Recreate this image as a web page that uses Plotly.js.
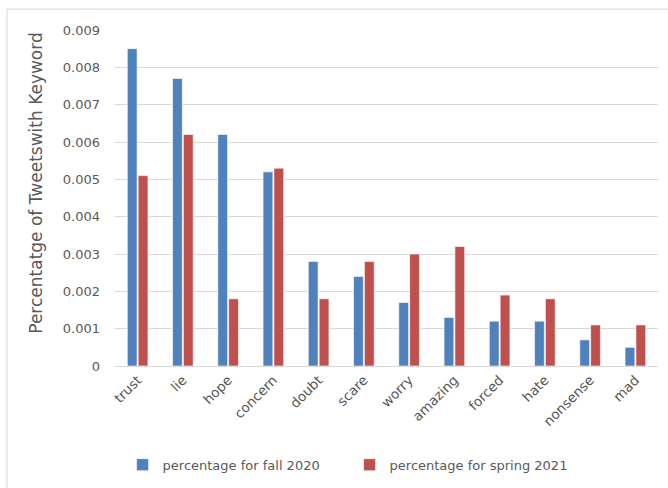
<!DOCTYPE html>
<html>
<head>
<meta charset="utf-8">
<script src="https://cdn.plot.ly/plotly-3.0.1.min.js"></script>
<style>html,body{margin:0;padding:0;background:#fff;}#chart{width:668px;height:488px;}</style>
</head>
<body>
<div id="chart"></div>
<script>
const keywords = ["trust","lie","hope","concern","doubt","scare","worry","amazing","forced","hate","nonsense","mad"];
const fall2020 = [0.0085,0.0077,0.0062,0.0052,0.0028,0.0024,0.0017,0.0013,0.0012,0.0012,0.0007,0.0005];
const spring2021 = [0.0051,0.0062,0.0018,0.0053,0.0018,0.0028,0.0030,0.0032,0.0019,0.0018,0.0011,0.0011];
const yTicks = [0,0.001,0.002,0.003,0.004,0.005,0.006,0.007,0.008,0.009];
const yTickText = ["0","0.001","0.002","0.003","0.004","0.005","0.006","0.007","0.008","0.009"];
const yTitle = "Percentatge of Tweetswith Keyword";

const fontFam = "DejaVu Sans, sans-serif";
const grey = "#595959";

const traces = [
  {type:"bar", name:"percentage for fall 2020", x:keywords, y:fall2020,
   marker:{color:"#4F81BD", line:{color:"#ffffff", width:0.6}}},
  {type:"bar", name:"percentage for spring 2021", x:keywords, y:spring2021,
   marker:{color:"#C0504D", line:{color:"#ffffff", width:0.6}}}
];

const layout = {
  width:668, height:488,
  margin:{l:115, r:10, t:30, b:121},
  paper_bgcolor:"#fff", plot_bgcolor:"#fff",
  font:{family:fontFam, size:13, color:grey},
  barmode:"group", bargap:0.52, bargroupgap:0.1,
  showlegend:true,
  legend:{orientation:"h", x:0.432, xanchor:"center", y:-0.29, yanchor:"middle",
          entrywidth:182, entrywidthmode:"pixels",
          font:{family:fontFam, size:13, color:grey}, traceorder:"normal"},
  xaxis:{type:"category", tickangle:-45, showgrid:false, showline:true,
         linecolor:"#D9D9D9", linewidth:1, ticks:"", tickfont:{family:fontFam, size:13.5, color:grey},
         fixedrange:true},
  yaxis:{range:[0,0.009], tickvals:yTicks, ticktext:yTickText, showgrid:true,
         gridcolor:"#D9D9D9", gridwidth:1, zeroline:false, showline:false, ticks:"",
         ticklabelstandoff:14,
         tickfont:{family:fontFam, size:13, color:grey}},
  annotations:[{text:yTitle, xref:"paper", yref:"paper", x:-0.147, y:0.543,
                xanchor:"center", yanchor:"middle", textangle:-90, showarrow:false,
                font:{family:fontFam, size:17, color:grey}}],
  shapes:[{type:"rect", xref:"paper", yref:"paper", x0:-0.1989, x1:1.2, y0:-0.6, y1:1.0623,
           line:{color:"#D9D9D9", width:1}, fillcolor:"rgba(0,0,0,0)", layer:"below"}]
};

Plotly.newPlot("chart", traces, layout, {displayModeBar:false, staticPlot:true});
</script>
</body>
</html>
